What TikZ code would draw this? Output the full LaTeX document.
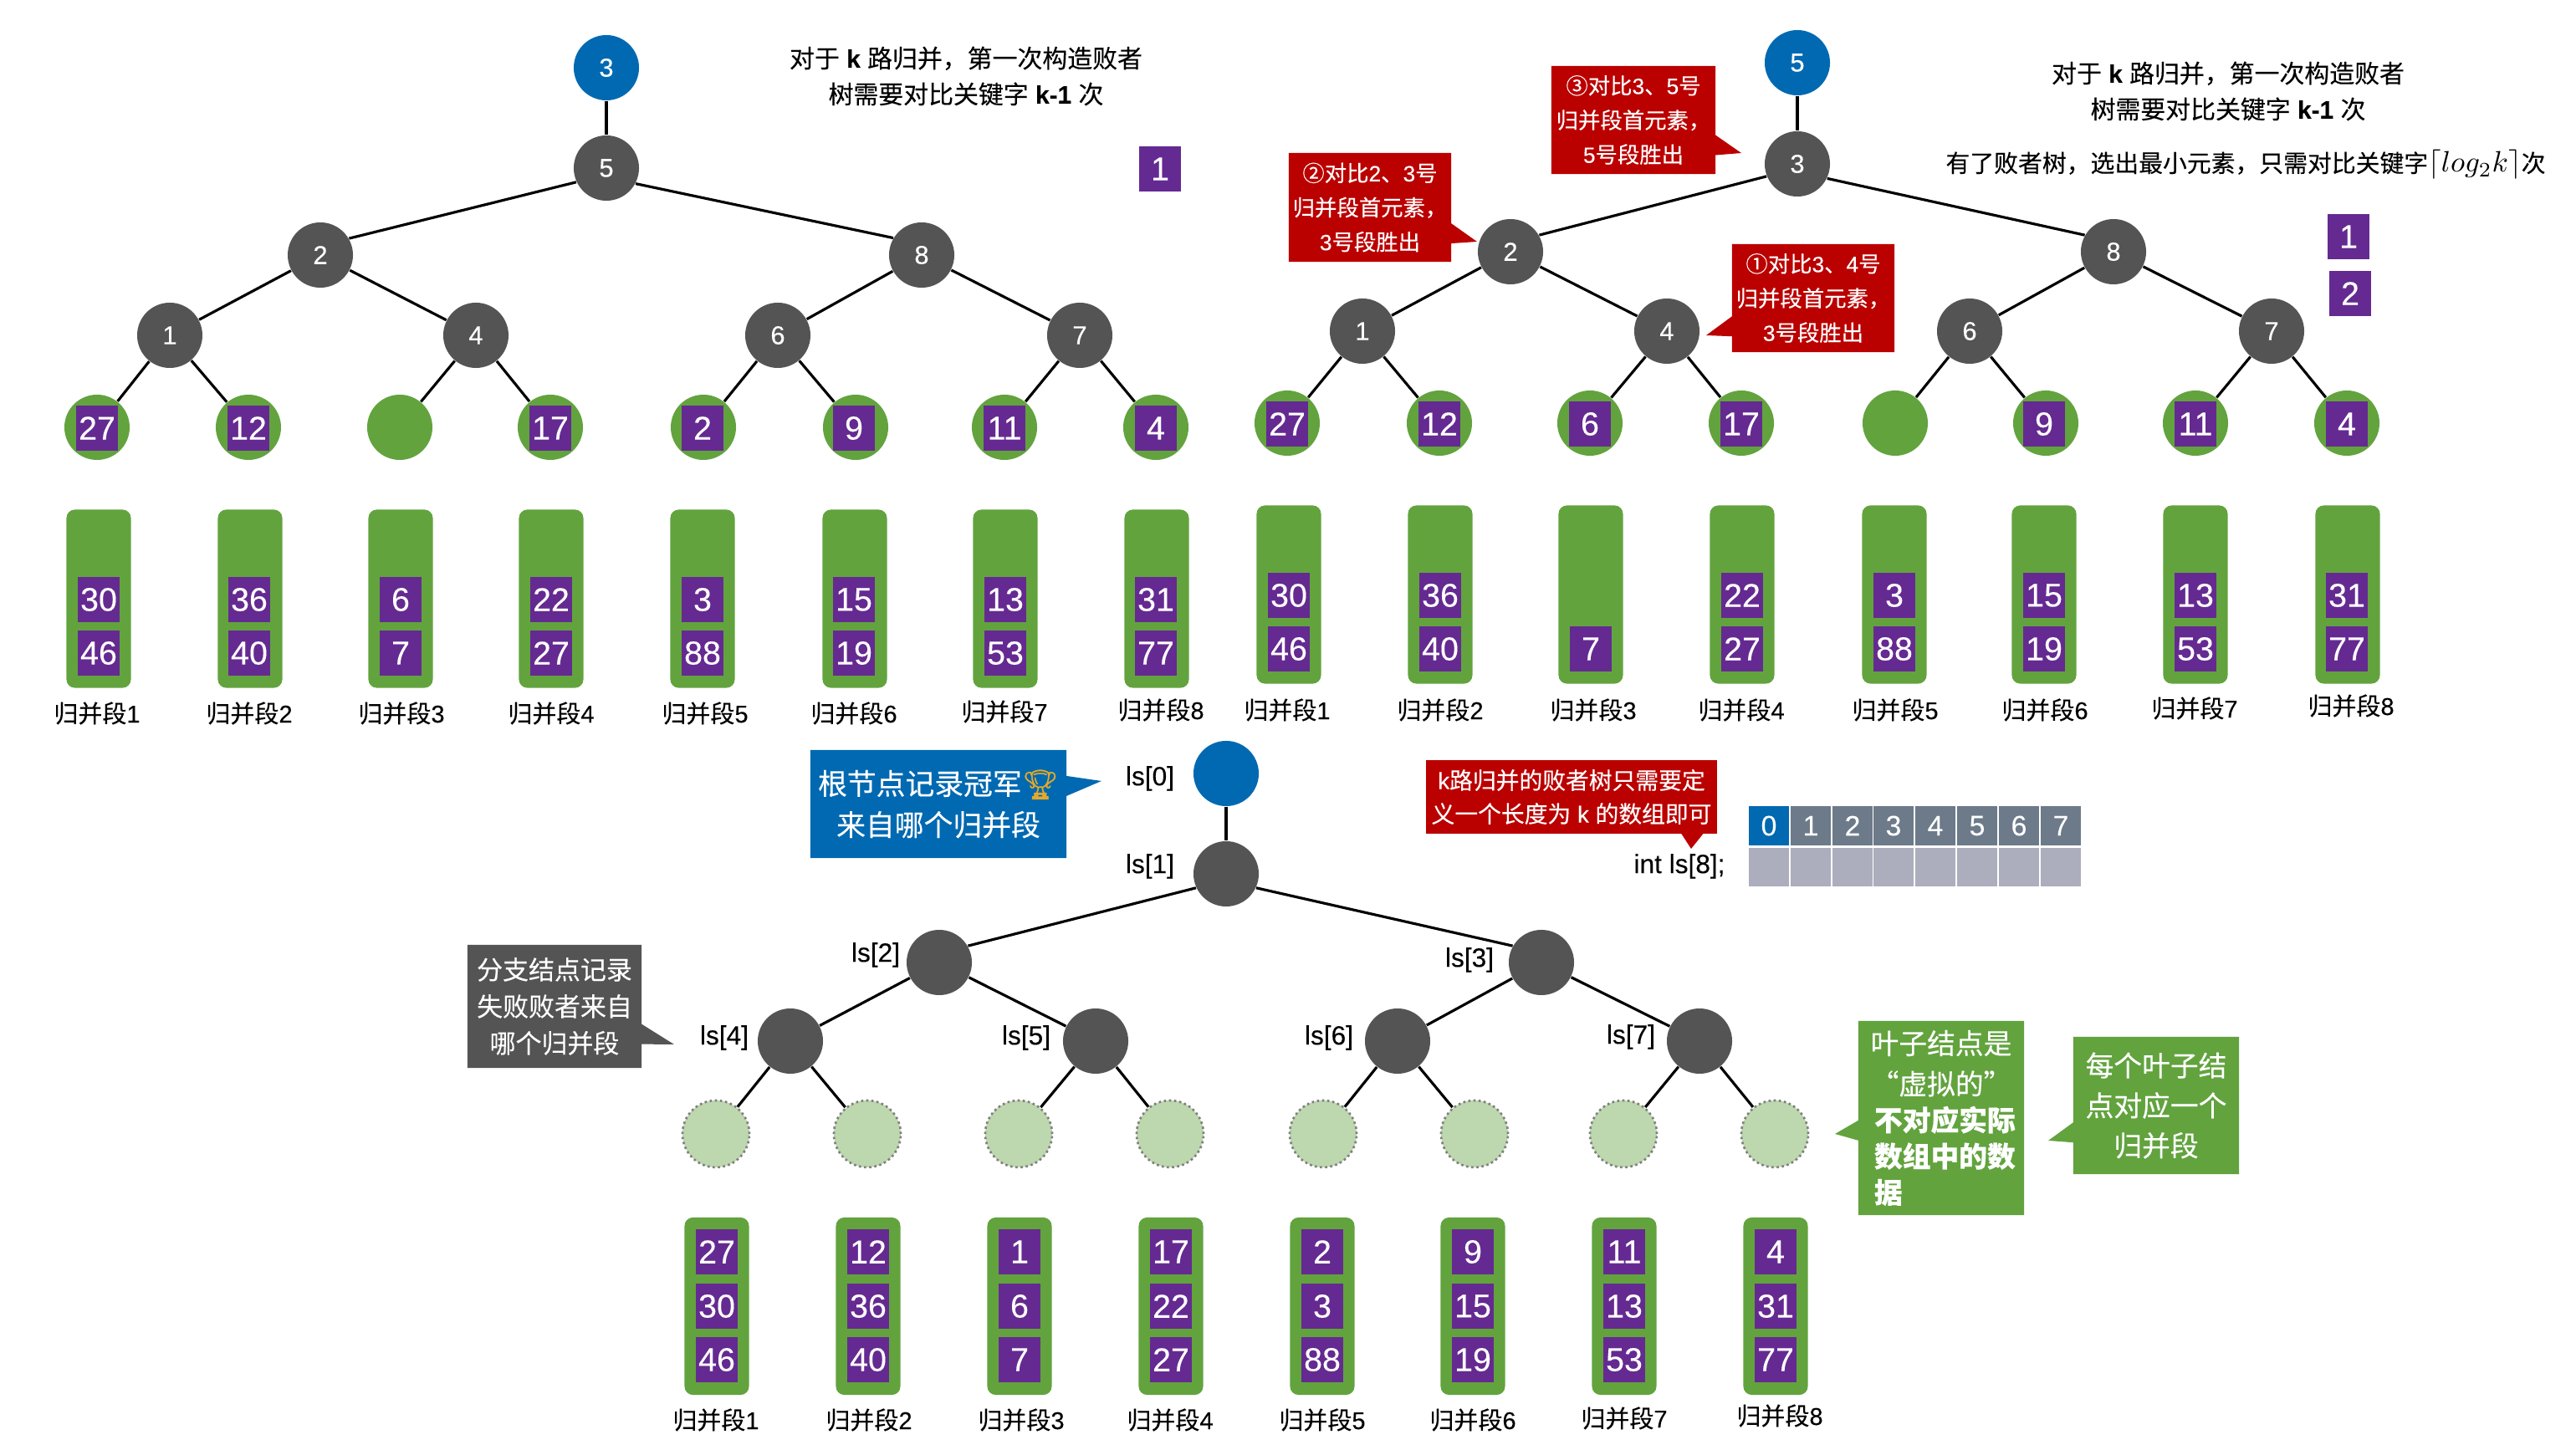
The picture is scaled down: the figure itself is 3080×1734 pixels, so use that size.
\documentclass[tikz,border=0pt]{standalone}
\usepackage[no-math]{fontspec}
\setmainfont{Liberation Sans}[FakeBold=0.15]
\newfontfamily\cjk{Noto Sans CJK SC}[FakeBold=0.2]
\newfontfamily\emojifont{Noto Emoji}[FakeBold=1.2]
\usetikzlibrary{shapes.callouts}
\newcommand{\zh}[1]{{\cjk #1}}
\newcommand{\zhcomma}{{\cjk ^^^^ff0c}}
\definecolor{treegray}{HTML}{545454}
\definecolor{rootblue}{HTML}{0069B1}
\definecolor{leafgreen}{HTML}{62A33E}
\definecolor{palegreen}{HTML}{BDD7AE}
\definecolor{numpurple}{HTML}{652A91}
\definecolor{notered}{HTML}{BB0000}
\definecolor{headgray}{HTML}{6C7A89}
\definecolor{cellgray}{HTML}{ACAEBD}
\definecolor{trophy}{HTML}{E3A92B}
\tikzset{
  loser/.style={circle, fill=treegray, text=white, minimum size=0.78cm, inner sep=0pt, font=\fontsize{8.8}{10}\selectfont},
  champ/.style={loser, fill=rootblue},
  leafnode/.style={circle, fill=leafgreen, minimum size=0.78cm, inner sep=0pt},
  ghost/.style={circle, fill=palegreen, draw=treegray!75, densely dotted, line width=0.75pt, minimum size=0.8cm, inner sep=0pt},
  segbar/.style={rectangle, rounded corners=0.1cm, fill=leafgreen, minimum width=0.77cm, inner sep=0pt},
  numbox/.style={rectangle, fill=numpurple, text=white, minimum width=0.5cm, minimum height=0.53cm, inner sep=0pt, font=\fontsize{11.2}{12}\selectfont},
  seglabel/.style={inner sep=0pt, font=\fontsize{8.25}{10}\selectfont},
  lslabel/.style={inner sep=0pt, font=\fontsize{9}{10}\selectfont},
  plaintext/.style={inner sep=0pt, align=center, font=\fontsize{8.5}{12.2}\selectfont},
  note/.style={rectangle callout, inner sep=0pt, text=white, align=center, callout pointer width=0.24cm},
  edge/.style={line width=0.9pt},
  headcell/.style={rectangle, fill=headgray, draw=white, line width=0.3pt, text=white, minimum width=0.498cm, minimum height=0.49cm, inner sep=0pt, font=\fontsize{9.6}{10}\selectfont},
  bodycell/.style={rectangle, fill=cellgray, draw=white, line width=0.3pt, minimum width=0.498cm, minimum height=0.47cm, inner sep=0pt}
}
\begin{document}
\begin{tikzpicture}[x=0.01cm, y=-0.01cm]
  \useasboundingbox (0, 0) rectangle (3080, 1734);

  % 第一棵败者树
  \node[champ] (aroot) at (725, 81) {3};
  \node[loser] (a5) at (725, 201) {5};
  \node[loser] (a2) at (383, 305) {2};
  \node[loser] (a8) at (1102, 305) {8};
  \node[loser] (a1) at (203, 401) {1};
  \node[loser] (a4) at (569, 401) {4};
  \node[loser] (a6) at (930, 401) {6};
  \node[loser] (a7) at (1291, 401) {7};

  % 叶子
  \node[leafnode] (al1) at (116, 511) {};
  \node[leafnode] (al2) at (297, 511) {};
  \node[leafnode] (al3) at (478, 511) {};
  \node[leafnode] (al4) at (658, 511) {};
  \node[leafnode] (al5) at (841, 511) {};
  \node[leafnode] (al6) at (1023, 511) {};
  \node[leafnode] (al7) at (1201, 511) {};
  \node[leafnode] (al8) at (1382, 511) {};
  \node[numbox] (aq1) at (116, 512) {27};
  \node[numbox] (aq2) at (297, 512) {12};
  \node[numbox] (aq4) at (658, 512) {17};
  \node[numbox] (aq5) at (840, 512) {2};
  \node[numbox] (aq6) at (1021, 512) {9};
  \node[numbox] (aq7) at (1201, 512) {11};
  \node[numbox] (aq8) at (1382, 512) {4};

  % 连线
  \draw[edge] (aroot) -- (a5);
  \draw[edge] (a5.205) -- (a2.30);
  \draw[edge] (a5.332) -- (a8.149);
  \draw[edge] (a2) -- (a1);
  \draw[edge] (a2) -- (a4);
  \draw[edge] (a8) -- (a6);
  \draw[edge] (a8) -- (a7);
  \draw[edge] (a1) -- (al1);
  \draw[edge] (a1) -- (al2);
  \draw[edge] (a4) -- (al3);
  \draw[edge] (a4) -- (al4);
  \draw[edge] (a6) -- (al5);
  \draw[edge] (a6) -- (al6);
  \draw[edge] (a7) -- (al7);
  \draw[edge] (a7) -- (al8);

  % 归并段
  \node[segbar, minimum height=2.13cm] (ab1) at (118, 716) {};
  \node[segbar, minimum height=2.13cm] (ab2) at (299, 716) {};
  \node[segbar, minimum height=2.13cm] (ab3) at (479, 716) {};
  \node[segbar, minimum height=2.13cm] (ab4) at (659, 716) {};
  \node[segbar, minimum height=2.13cm] (ab5) at (840, 716) {};
  \node[segbar, minimum height=2.13cm] (ab6) at (1022, 716) {};
  \node[segbar, minimum height=2.13cm] (ab7) at (1202, 716) {};
  \node[segbar, minimum height=2.13cm] (ab8) at (1383, 716) {};
  \node[numbox] (ax1) at (118, 717) {30};
  \node[numbox] (ay1) at (118, 781) {46};
  \node[numbox] (ax2) at (298, 717) {36};
  \node[numbox] (ay2) at (298, 781) {40};
  \node[numbox] (ax3) at (479, 717) {6};
  \node[numbox] (ay3) at (479, 781) {7};
  \node[numbox] (ax4) at (659, 717) {22};
  \node[numbox] (ay4) at (659, 781) {27};
  \node[numbox] (ax5) at (840, 717) {3};
  \node[numbox] (ay5) at (840, 781) {88};
  \node[numbox] (ax6) at (1021, 717) {15};
  \node[numbox] (ay6) at (1021, 781) {19};
  \node[numbox] (ax7) at (1202, 717) {13};
  \node[numbox] (ay7) at (1202, 781) {53};
  \node[numbox] (ax8) at (1382, 717) {31};
  \node[numbox] (ay8) at (1382, 781) {77};
  \node[seglabel] (at1) at (116, 853) {\zh{归并段}1};
  \node[seglabel] (at2) at (298, 853) {\zh{归并段}2};
  \node[seglabel] (at3) at (480, 853) {\zh{归并段}3};
  \node[seglabel] (at4) at (659, 853) {\zh{归并段}4};
  \node[seglabel] (at5) at (843, 853) {\zh{归并段}5};
  \node[seglabel] (at6) at (1021, 853) {\zh{归并段}6};
  \node[seglabel] (at7) at (1201, 851) {\zh{归并段}7};
  \node[seglabel] (at8) at (1388, 849) {\zh{归并段}8};

  % 说明
  \node[plaintext] (atext) at (1155, 91) {\zh{对于} \textbf{k} \zh{路归并}\zhcomma\zh{第一次构造败者}\\\zh{树需要对比关键字} \textbf{k-1} \zh{次}};
  \node[numbox] (aone) at (1387, 202) {1};

  % 第二棵败者树
  \node[champ] (broot) at (2149, 75) {5};
  \node[loser] (b3) at (2149, 196) {3};
  \node[loser] (b2) at (1806, 301) {2};
  \node[loser] (b8) at (2527, 301) {8};
  \node[loser] (b1) at (1629, 396) {1};
  \node[loser] (b4) at (1993, 396) {4};
  \node[loser] (b6) at (2355, 396) {6};
  \node[loser] (b7) at (2716, 396) {7};

  % 叶子
  \node[leafnode] (bl1) at (1539, 506) {};
  \node[leafnode] (bl2) at (1721, 506) {};
  \node[leafnode] (bl3) at (1901, 506) {};
  \node[leafnode] (bl4) at (2082, 506) {};
  \node[leafnode] (bl5) at (2266, 506) {};
  \node[leafnode] (bl6) at (2446, 506) {};
  \node[leafnode] (bl7) at (2625, 506) {};
  \node[leafnode] (bl8) at (2806, 506) {};
  \node[numbox] (bq1) at (1539, 507) {27};
  \node[numbox] (bq2) at (1721, 507) {12};
  \node[numbox] (bq3) at (1901, 507) {6};
  \node[numbox] (bq4) at (2082, 507) {17};
  \node[numbox] (bq6) at (2444, 507) {9};
  \node[numbox] (bq7) at (2625, 507) {11};
  \node[numbox] (bq8) at (2806, 507) {4};

  % 连线
  \draw[edge] (broot) -- (b3);
  \draw[edge] (b3.202) -- (b2.30);
  \draw[edge] (b3.334) -- (b8.150);
  \draw[edge] (b2) -- (b1);
  \draw[edge] (b2) -- (b4);
  \draw[edge] (b8) -- (b6);
  \draw[edge] (b8) -- (b7);
  \draw[edge] (b1) -- (bl1);
  \draw[edge] (b1) -- (bl2);
  \draw[edge] (b4) -- (bl3);
  \draw[edge] (b4) -- (bl4);
  \draw[edge] (b6) -- (bl5);
  \draw[edge] (b6) -- (bl6);
  \draw[edge] (b7) -- (bl7);
  \draw[edge] (b7) -- (bl8);

  % 归并段
  \node[segbar, minimum height=2.13cm] (bb1) at (1541, 711) {};
  \node[segbar, minimum height=2.13cm] (bb2) at (1722, 711) {};
  \node[segbar, minimum height=2.13cm] (bb3) at (1902, 711) {};
  \node[segbar, minimum height=2.13cm] (bb4) at (2083, 711) {};
  \node[segbar, minimum height=2.13cm] (bb5) at (2265, 711) {};
  \node[segbar, minimum height=2.13cm] (bb6) at (2444, 711) {};
  \node[segbar, minimum height=2.13cm] (bb7) at (2625, 711) {};
  \node[segbar, minimum height=2.13cm] (bb8) at (2807, 711) {};
  \node[numbox] (bx1) at (1541, 712) {30};
  \node[numbox] (by1) at (1541, 776) {46};
  \node[numbox] (bx2) at (1722, 712) {36};
  \node[numbox] (by2) at (1722, 776) {40};
  \node[numbox] (by3) at (1902, 776) {7};
  \node[numbox] (bx4) at (2083, 712) {22};
  \node[numbox] (by4) at (2083, 776) {27};
  \node[numbox] (bx5) at (2265, 712) {3};
  \node[numbox] (by5) at (2265, 776) {88};
  \node[numbox] (bx6) at (2444, 712) {15};
  \node[numbox] (by6) at (2444, 776) {19};
  \node[numbox] (bx7) at (2625, 712) {13};
  \node[numbox] (by7) at (2625, 776) {53};
  \node[numbox] (bx8) at (2806, 712) {31};
  \node[numbox] (by8) at (2806, 776) {77};
  \node[seglabel] (bt1) at (1539, 849) {\zh{归并段}1};
  \node[seglabel] (bt2) at (1722, 849) {\zh{归并段}2};
  \node[seglabel] (bt3) at (1905, 849) {\zh{归并段}3};
  \node[seglabel] (bt4) at (2082, 849) {\zh{归并段}4};
  \node[seglabel] (bt5) at (2266, 849) {\zh{归并段}5};
  \node[seglabel] (bt6) at (2445, 849) {\zh{归并段}6};
  \node[seglabel] (bt7) at (2624, 847) {\zh{归并段}7};
  \node[seglabel] (bt8) at (2811, 844) {\zh{归并段}8};

  % 说明和气泡
  \node[plaintext] (btext) at (2664, 109) {\zh{对于} \textbf{k} \zh{路归并}\zhcomma\zh{第一次构造败者}\\\zh{树需要对比关键字} \textbf{k-1} \zh{次}};
  \node[plaintext, font=\fontsize{8.2}{12.2}\selectfont] (bcost) at (2685, 197) {\zh{有了败者树}\zhcomma\zh{选出最小元素}\zhcomma\zh{只需对比关键字}{\fontsize{10}{12}\selectfont$\lceil log_2k\rceil$}\zh{次}};
  \node[numbox] (bone) at (2808, 283) {1};
  \node[numbox] (btwo) at (2810, 351) {2};
  \node[note, fill=notered, minimum width=1.96cm, minimum height=1.29cm, callout absolute pointer={(2082, 183)}, font=\fontsize{7.5}{11.7}\selectfont] (bnote3) at (1953, 143.5) {\zh{③对比}3\zh{、}5\zh{号}\\\zh{归并段首元素}\zhcomma\\5\zh{号段胜出}};
  \node[note, fill=notered, minimum width=1.94cm, minimum height=1.3cm, callout absolute pointer={(1766, 289)}, font=\fontsize{7.5}{11.7}\selectfont] (bnote2) at (1638, 248) {\zh{②对比}2\zh{、}3\zh{号}\\\zh{归并段首元素}\zhcomma\\3\zh{号段胜出}};
  \node[note, fill=notered, minimum width=1.94cm, minimum height=1.29cm, callout absolute pointer={(2040, 401)}, font=\fontsize{7.5}{11.7}\selectfont] (bnote1) at (2168, 356.5) {\zh{①对比}3\zh{、}4\zh{号}\\\zh{归并段首元素}\zhcomma\\3\zh{号段胜出}};

  % 第三棵败者树
  \node[champ] (c0) at (1466, 925) {};
  \node[loser] (c1) at (1466, 1045) {};
  \node[loser] (c2) at (1123, 1151) {};
  \node[loser] (c3) at (1843, 1151) {};
  \node[loser] (c4) at (945, 1245) {};
  \node[loser] (c5) at (1310, 1245) {};
  \node[loser] (c6) at (1671, 1245) {};
  \node[loser] (c7) at (2032, 1245) {};
  \node[lslabel] (cs0) at (1375, 931) {ls[0]};
  \node[lslabel] (cs1) at (1375, 1036) {ls[1]};
  \node[lslabel] (cs2) at (1047, 1142) {ls[2]};
  \node[lslabel] (cs3) at (1757, 1148) {ls[3]};
  \node[lslabel] (cs4) at (866, 1241) {ls[4]};
  \node[lslabel] (cs5) at (1227, 1241) {ls[5]};
  \node[lslabel] (cs6) at (1589, 1241) {ls[6]};
  \node[lslabel] (cs7) at (1950, 1240) {ls[7]};

  % 虚拟叶子
  \node[ghost] (cl1) at (856, 1356) {};
  \node[ghost] (cl2) at (1037, 1356) {};
  \node[ghost] (cl3) at (1218, 1356) {};
  \node[ghost] (cl4) at (1399, 1356) {};
  \node[ghost] (cl5) at (1582, 1356) {};
  \node[ghost] (cl6) at (1763, 1356) {};
  \node[ghost] (cl7) at (1941, 1356) {};
  \node[ghost] (cl8) at (2122, 1356) {};

  % 连线
  \draw[edge] (c0) -- (c1);
  \draw[edge] (c1.205) -- (c2.30);
  \draw[edge] (c1.335) -- (c3.150);
  \draw[edge] (c2) -- (c4);
  \draw[edge] (c2) -- (c5);
  \draw[edge] (c3) -- (c6);
  \draw[edge] (c3) -- (c7);
  \draw[edge] (c4) -- (cl1);
  \draw[edge] (c4) -- (cl2);
  \draw[edge] (c5) -- (cl3);
  \draw[edge] (c5) -- (cl4);
  \draw[edge] (c6) -- (cl5);
  \draw[edge] (c6) -- (cl6);
  \draw[edge] (c7) -- (cl7);
  \draw[edge] (c7) -- (cl8);

  % 归并段
  \node[segbar, minimum height=2.12cm] (cb1) at (857, 1562) {};
  \node[segbar, minimum height=2.12cm] (cb2) at (1038, 1562) {};
  \node[segbar, minimum height=2.12cm] (cb3) at (1219, 1562) {};
  \node[segbar, minimum height=2.12cm] (cb4) at (1400, 1562) {};
  \node[segbar, minimum height=2.12cm] (cb5) at (1581, 1562) {};
  \node[segbar, minimum height=2.12cm] (cb6) at (1761, 1562) {};
  \node[segbar, minimum height=2.12cm] (cb7) at (1942, 1562) {};
  \node[segbar, minimum height=2.12cm] (cb8) at (2123, 1562) {};
  \node[numbox] (cx1) at (857, 1497) {27};
  \node[numbox] (cy1) at (857, 1562) {30};
  \node[numbox] (cz1) at (857, 1626) {46};
  \node[numbox] (cx2) at (1038, 1497) {12};
  \node[numbox] (cy2) at (1038, 1562) {36};
  \node[numbox] (cz2) at (1038, 1626) {40};
  \node[numbox] (cx3) at (1219, 1497) {1};
  \node[numbox] (cy3) at (1219, 1562) {6};
  \node[numbox] (cz3) at (1219, 1626) {7};
  \node[numbox] (cx4) at (1400, 1497) {17};
  \node[numbox] (cy4) at (1400, 1562) {22};
  \node[numbox] (cz4) at (1400, 1626) {27};
  \node[numbox] (cx5) at (1581, 1497) {2};
  \node[numbox] (cy5) at (1581, 1562) {3};
  \node[numbox] (cz5) at (1581, 1626) {88};
  \node[numbox] (cx6) at (1761, 1497) {9};
  \node[numbox] (cy6) at (1761, 1562) {15};
  \node[numbox] (cz6) at (1761, 1626) {19};
  \node[numbox] (cx7) at (1942, 1497) {11};
  \node[numbox] (cy7) at (1942, 1562) {13};
  \node[numbox] (cz7) at (1942, 1626) {53};
  \node[numbox] (cx8) at (2123, 1497) {4};
  \node[numbox] (cy8) at (2123, 1562) {31};
  \node[numbox] (cz8) at (2123, 1626) {77};
  \node[seglabel] (ct1) at (856, 1698) {\zh{归并段}1};
  \node[seglabel] (ct2) at (1039, 1698) {\zh{归并段}2};
  \node[seglabel] (ct3) at (1221, 1698) {\zh{归并段}3};
  \node[seglabel] (ct4) at (1399, 1698) {\zh{归并段}4};
  \node[seglabel] (ct5) at (1581, 1698) {\zh{归并段}5};
  \node[seglabel] (ct6) at (1761, 1698) {\zh{归并段}6};
  \node[seglabel] (ct7) at (1942, 1696) {\zh{归并段}7};
  \node[seglabel] (ct8) at (2128, 1693) {\zh{归并段}8};

  % 气泡
  \node[note, fill=rootblue, minimum width=3.06cm, minimum height=1.29cm, callout absolute pointer={(1317, 934)}, font=\fontsize{9.9}{14}\selectfont] (cchamp) at (1122, 961.5) {\zh{根节点记录冠军}{\emojifont\textcolor{trophy}{🏆}}\\\zh{来自哪个归并段}};
  \node[note, fill=treegray, minimum width=2.08cm, minimum height=1.47cm, callout absolute pointer={(806, 1249)}, font=\fontsize{8.8}{12.5}\selectfont] (cbranch) at (663, 1203.5) {\zh{分支结点记录}\\\zh{失败败者来自}\\\zh{哪个归并段}};
  \fill[notered] (2009, 995) -- (2022, 1015) -- (2038, 995) -- cycle;
  \node[rectangle, inner sep=0pt, text=white, align=center, fill=notered, minimum width=3.48cm, minimum height=0.88cm, font=\fontsize{7.9}{11.4}\selectfont] (carray) at (1879, 953) {k\zh{路归并的败者树只需要定}\\\zh{义一个长度为} k \zh{的数组即可}};
  \node[note, fill=leafgreen, minimum width=1.98cm, minimum height=2.32cm, callout absolute pointer={(2194, 1356)}, text width=1.6cm, align=left, font=\fontsize{9.6}{12.3}\selectfont] (cvirtual) at (2321, 1337) {\makebox[1.6cm]{\zh{叶子结点是}}\\[1.5pt]\makebox[1.6cm]{\zh{“虚拟的”}}\\\bfseries\zh{不对应实际}\\\zh{数组中的数}\\\zh{据}};
  \node[note, fill=leafgreen, minimum width=1.98cm, minimum height=1.64cm, callout absolute pointer={(2449, 1364)}, font=\fontsize{9.6}{13.6}\selectfont] (cseg) at (2578, 1322) {\zh{每个叶子结}\\\zh{点对应一个}\\\zh{归并段}};

  % 数组
  \node[lslabel] (cint) at (2008, 1036) {int ls[8];};
  \node[headcell, fill=rootblue] (h0) at (2115, 987.5) {0};
  \node[headcell] (h1) at (2165, 987.5) {1};
  \node[headcell] (h2) at (2215, 987.5) {2};
  \node[headcell] (h3) at (2264, 987.5) {3};
  \node[headcell] (h4) at (2314, 987.5) {4};
  \node[headcell] (h5) at (2364, 987.5) {5};
  \node[headcell] (h6) at (2414, 987.5) {6};
  \node[headcell] (h7) at (2464, 987.5) {7};
  \node[bodycell] (d0) at (2115, 1037) {};
  \node[bodycell] (d1) at (2165, 1037) {};
  \node[bodycell] (d2) at (2215, 1037) {};
  \node[bodycell] (d3) at (2264, 1037) {};
  \node[bodycell] (d4) at (2314, 1037) {};
  \node[bodycell] (d5) at (2364, 1037) {};
  \node[bodycell] (d6) at (2414, 1037) {};
  \node[bodycell] (d7) at (2464, 1037) {};
\end{tikzpicture}
\end{document}
